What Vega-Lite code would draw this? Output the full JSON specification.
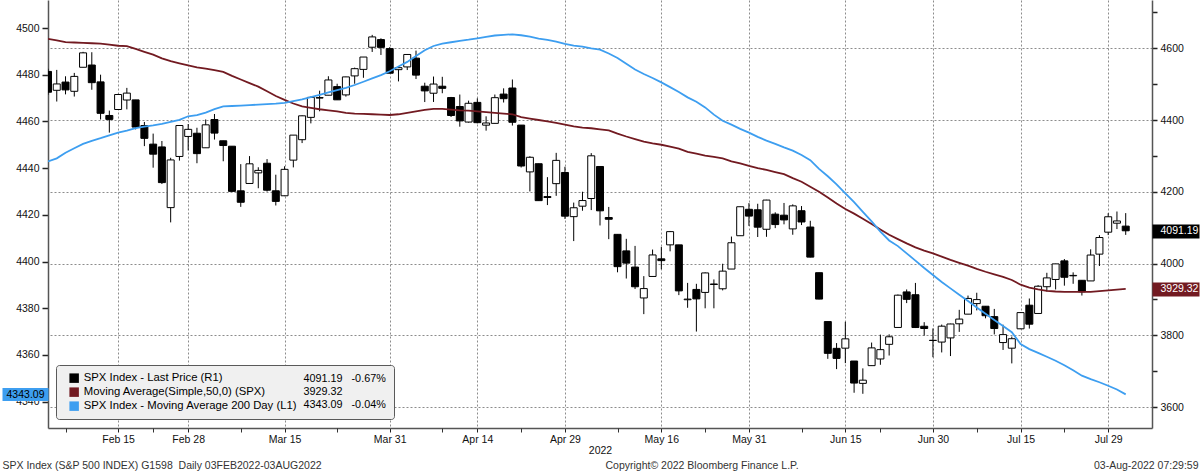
{
  "$schema": "https://vega.github.io/schema/vega-lite/v6.json",
  "width": 1104,
  "height": 428,
  "autosize": {"type": "none"},
  "padding": {"left": 48, "top": 0, "right": 48, "bottom": 44},
  "background": "#ffffff",
  "config": {
    "view": {"stroke": null},
    "font": "Liberation Sans",
    "axis": {"labelFont": "Liberation Sans", "labelFontSize": 10.5, "labelColor": "#111111", "titleFont": "Liberation Sans", "titleFontWeight": "normal", "titleFontSize": 10.5, "titleColor": "#222222", "domainColor": "#555555", "tickColor": "#222222"},
    "legend": {"labelFont": "Liberation Sans", "titleFont": "Liberation Sans"}
  },
  "datasets": {
    "px": [
      {"d":"2022-02-03","o":4535.41,"h":4542.88,"l":4470.39,"c":4477.44,"m50":4626,"m200":4442.9},
      {"d":"2022-02-04","o":4482.79,"h":4539.66,"l":4451.5,"c":4500.53,"m50":4622,"m200":4444.2},
      {"d":"2022-02-07","o":4505.75,"h":4521.86,"l":4471.47,"c":4483.87,"m50":4617,"m200":4446.6},
      {"d":"2022-02-08","o":4480.02,"h":4531.32,"l":4465.4,"c":4521.54,"m50":4616,"m200":4448.5},
      {"d":"2022-02-09","o":4547.0,"h":4590.03,"l":4547.0,"c":4587.18,"m50":4615,"m200":4450.4},
      {"d":"2022-02-10","o":4553.24,"h":4588.92,"l":4484.31,"c":4504.08,"m50":4614,"m200":4451.7},
      {"d":"2022-02-11","o":4506.27,"h":4526.33,"l":4401.41,"c":4418.64,"m50":4613,"m200":4452.8},
      {"d":"2022-02-14","o":4412.61,"h":4426.22,"l":4364.84,"c":4401.67,"m50":4610,"m200":4454.0},
      {"d":"2022-02-15","o":4429.28,"h":4472.77,"l":4429.28,"c":4471.07,"m50":4607,"m200":4455.2},
      {"d":"2022-02-16","o":4455.75,"h":4489.55,"l":4429.68,"c":4475.01,"m50":4606,"m200":4456.1},
      {"d":"2022-02-17","o":4456.06,"h":4456.06,"l":4373.81,"c":4380.26,"m50":4598,"m200":4457.1},
      {"d":"2022-02-18","o":4384.57,"h":4394.6,"l":4327.22,"c":4348.87,"m50":4590,"m200":4457.8},
      {"d":"2022-02-22","o":4332.74,"h":4362.12,"l":4267.11,"c":4304.76,"m50":4582,"m200":4458.3},
      {"d":"2022-02-23","o":4324.93,"h":4341.51,"l":4221.51,"c":4225.5,"m50":4572,"m200":4458.9},
      {"d":"2022-02-24","o":4155.77,"h":4294.73,"l":4114.65,"c":4288.7,"m50":4564,"m200":4459.8},
      {"d":"2022-02-25","o":4298.38,"h":4385.34,"l":4286.83,"c":4384.65,"m50":4558,"m200":4460.7},
      {"d":"2022-02-28","o":4354.17,"h":4388.84,"l":4315.12,"c":4373.94,"m50":4552,"m200":4462.2},
      {"d":"2022-03-01","o":4363.14,"h":4378.45,"l":4279.54,"c":4306.26,"m50":4547,"m200":4462.7},
      {"d":"2022-03-02","o":4322.56,"h":4401.48,"l":4322.56,"c":4386.54,"m50":4543,"m200":4463.8},
      {"d":"2022-03-03","o":4401.31,"h":4416.78,"l":4345.56,"c":4363.49,"m50":4539,"m200":4465.3},
      {"d":"2022-03-04","o":4342.12,"h":4342.12,"l":4284.98,"c":4328.87,"m50":4534,"m200":4466.4},
      {"d":"2022-03-07","o":4327.01,"h":4327.01,"l":4199.85,"c":4201.09,"m50":4523,"m200":4466.6},
      {"d":"2022-03-08","o":4202.66,"h":4276.94,"l":4157.87,"c":4170.7,"m50":4513,"m200":4466.8},
      {"d":"2022-03-09","o":4223.1,"h":4299.4,"l":4223.1,"c":4277.88,"m50":4503,"m200":4467.0},
      {"d":"2022-03-10","o":4252.55,"h":4268.28,"l":4209.8,"c":4259.52,"m50":4493,"m200":4467.2},
      {"d":"2022-03-11","o":4279.5,"h":4291.01,"l":4200.49,"c":4204.31,"m50":4480,"m200":4467.4},
      {"d":"2022-03-14","o":4202.75,"h":4247.57,"l":4161.72,"c":4173.11,"m50":4467,"m200":4467.6},
      {"d":"2022-03-15","o":4188.82,"h":4271.05,"l":4187.9,"c":4262.45,"m50":4456,"m200":4467.9},
      {"d":"2022-03-16","o":4288.14,"h":4357.86,"l":4267.92,"c":4357.86,"m50":4446,"m200":4468.7},
      {"d":"2022-03-17","o":4345.11,"h":4412.67,"l":4335.65,"c":4411.67,"m50":4438,"m200":4469.4},
      {"d":"2022-03-18","o":4407.34,"h":4465.4,"l":4390.57,"c":4463.12,"m50":4434,"m200":4470.4},
      {"d":"2022-03-21","o":4462.4,"h":4481.75,"l":4424.3,"c":4461.18,"m50":4430,"m200":4471.4},
      {"d":"2022-03-22","o":4469.1,"h":4522.0,"l":4469.1,"c":4511.61,"m50":4427,"m200":4472.4},
      {"d":"2022-03-23","o":4493.1,"h":4501.07,"l":4455.81,"c":4456.24,"m50":4424,"m200":4473.4},
      {"d":"2022-03-24","o":4469.98,"h":4520.58,"l":4465.17,"c":4520.16,"m50":4420,"m200":4474.4},
      {"d":"2022-03-25","o":4522.91,"h":4546.03,"l":4501.07,"c":4543.06,"m50":4418,"m200":4475.6},
      {"d":"2022-03-28","o":4541.09,"h":4575.65,"l":4517.69,"c":4575.52,"m50":4417,"m200":4477.0},
      {"d":"2022-03-29","o":4602.86,"h":4637.3,"l":4589.66,"c":4631.6,"m50":4416,"m200":4478.4},
      {"d":"2022-03-30","o":4624.2,"h":4627.77,"l":4581.32,"c":4602.45,"m50":4415,"m200":4479.8},
      {"d":"2022-03-31","o":4599.02,"h":4603.07,"l":4530.41,"c":4530.41,"m50":4414,"m200":4481.5},
      {"d":"2022-04-01","o":4540.32,"h":4548.7,"l":4507.57,"c":4545.86,"m50":4416,"m200":4483.5},
      {"d":"2022-04-04","o":4547.97,"h":4583.5,"l":4539.21,"c":4582.64,"m50":4420,"m200":4485.5},
      {"d":"2022-04-05","o":4572.45,"h":4593.45,"l":4514.17,"c":4525.12,"m50":4424,"m200":4488.0},
      {"d":"2022-04-06","o":4494.17,"h":4503.94,"l":4450.04,"c":4481.15,"m50":4428,"m200":4490.5},
      {"d":"2022-04-07","o":4474.65,"h":4521.16,"l":4450.3,"c":4500.21,"m50":4431,"m200":4492.3},
      {"d":"2022-04-08","o":4494.15,"h":4520.41,"l":4474.6,"c":4488.28,"m50":4431,"m200":4493.3},
      {"d":"2022-04-11","o":4462.64,"h":4464.35,"l":4408.38,"c":4412.53,"m50":4429,"m200":4493.9},
      {"d":"2022-04-12","o":4437.59,"h":4471.0,"l":4381.34,"c":4397.45,"m50":4427,"m200":4494.5},
      {"d":"2022-04-13","o":4394.3,"h":4453.92,"l":4392.7,"c":4446.59,"m50":4426,"m200":4495.0},
      {"d":"2022-04-14","o":4449.12,"h":4460.46,"l":4390.77,"c":4392.59,"m50":4424,"m200":4495.6},
      {"d":"2022-04-18","o":4385.63,"h":4410.31,"l":4370.3,"c":4391.69,"m50":4422,"m200":4496.2},
      {"d":"2022-04-19","o":4390.63,"h":4471.03,"l":4390.63,"c":4462.21,"m50":4420,"m200":4496.8},
      {"d":"2022-04-20","o":4472.26,"h":4488.29,"l":4448.76,"c":4459.45,"m50":4418,"m200":4497.1},
      {"d":"2022-04-21","o":4489.17,"h":4512.94,"l":4384.47,"c":4393.66,"m50":4416,"m200":4497.3},
      {"d":"2022-04-22","o":4385.83,"h":4385.83,"l":4267.62,"c":4271.78,"m50":4408,"m200":4496.9},
      {"d":"2022-04-25","o":4255.34,"h":4299.02,"l":4200.82,"c":4296.12,"m50":4404,"m200":4496.3},
      {"d":"2022-04-26","o":4278.14,"h":4278.14,"l":4175.04,"c":4175.2,"m50":4400,"m200":4495.5},
      {"d":"2022-04-27","o":4186.52,"h":4240.71,"l":4162.9,"c":4183.96,"m50":4396,"m200":4494.9},
      {"d":"2022-04-28","o":4222.58,"h":4308.45,"l":4188.63,"c":4287.5,"m50":4392,"m200":4494.2},
      {"d":"2022-04-29","o":4253.75,"h":4269.68,"l":4124.28,"c":4131.93,"m50":4387,"m200":4493.2},
      {"d":"2022-05-02","o":4130.61,"h":4169.81,"l":4062.51,"c":4155.38,"m50":4382,"m200":4492.5},
      {"d":"2022-05-03","o":4159.78,"h":4200.1,"l":4147.08,"c":4175.48,"m50":4379,"m200":4492.0},
      {"d":"2022-05-04","o":4181.18,"h":4307.66,"l":4148.91,"c":4300.17,"m50":4377,"m200":4491.3},
      {"d":"2022-05-05","o":4270.43,"h":4270.43,"l":4106.01,"c":4146.87,"m50":4374,"m200":4490.7},
      {"d":"2022-05-06","o":4128.17,"h":4157.69,"l":4067.91,"c":4123.34,"m50":4371,"m200":4489.1},
      {"d":"2022-05-09","o":4081.27,"h":4081.27,"l":3975.48,"c":3991.24,"m50":4362,"m200":4487.2},
      {"d":"2022-05-10","o":4035.18,"h":4068.82,"l":3958.17,"c":4001.05,"m50":4354,"m200":4484.7},
      {"d":"2022-05-11","o":3990.08,"h":4049.09,"l":3928.82,"c":3935.18,"m50":4347,"m200":4482.2},
      {"d":"2022-05-12","o":3903.95,"h":3964.8,"l":3858.87,"c":3930.08,"m50":4340,"m200":4480.3},
      {"d":"2022-05-13","o":3963.9,"h":4038.88,"l":3963.9,"c":4023.89,"m50":4335,"m200":4478.6},
      {"d":"2022-05-16","o":4013.02,"h":4046.46,"l":3983.99,"c":4008.01,"m50":4331,"m200":4476.7},
      {"d":"2022-05-17","o":4052.0,"h":4090.72,"l":4033.93,"c":4088.85,"m50":4326,"m200":4474.7},
      {"d":"2022-05-18","o":4051.98,"h":4051.98,"l":3911.91,"c":3923.68,"m50":4320,"m200":4472.6},
      {"d":"2022-05-19","o":3899.0,"h":3945.96,"l":3876.58,"c":3900.79,"m50":4311,"m200":4470.3},
      {"d":"2022-05-20","o":3927.76,"h":3943.42,"l":3810.32,"c":3901.36,"m50":4306,"m200":4468.4},
      {"d":"2022-05-23","o":3919.42,"h":3975.3,"l":3875.13,"c":3973.75,"m50":4301,"m200":4466.0},
      {"d":"2022-05-24","o":3942.94,"h":3955.68,"l":3875.13,"c":3941.48,"m50":4297,"m200":4462.9},
      {"d":"2022-05-25","o":3929.59,"h":3999.33,"l":3925.03,"c":3978.73,"m50":4293,"m200":4460.3},
      {"d":"2022-05-26","o":3984.6,"h":4075.14,"l":3984.6,"c":4057.84,"m50":4285,"m200":4458.6},
      {"d":"2022-05-27","o":4077.43,"h":4158.49,"l":4077.43,"c":4158.24,"m50":4279,"m200":4456.8},
      {"d":"2022-05-31","o":4151.09,"h":4168.34,"l":4104.88,"c":4132.15,"m50":4272,"m200":4455.2},
      {"d":"2022-06-01","o":4149.78,"h":4166.54,"l":4073.85,"c":4101.23,"m50":4266,"m200":4453.4},
      {"d":"2022-06-02","o":4095.41,"h":4177.51,"l":4074.37,"c":4176.82,"m50":4261,"m200":4451.8},
      {"d":"2022-06-03","o":4137.57,"h":4142.67,"l":4098.67,"c":4108.54,"m50":4255,"m200":4450.4},
      {"d":"2022-06-06","o":4134.72,"h":4168.78,"l":4109.18,"c":4121.43,"m50":4249,"m200":4448.9},
      {"d":"2022-06-07","o":4096.47,"h":4164.86,"l":4080.19,"c":4160.68,"m50":4238,"m200":4447.5},
      {"d":"2022-06-08","o":4147.12,"h":4160.14,"l":4107.2,"c":4115.77,"m50":4228,"m200":4445.6},
      {"d":"2022-06-09","o":4101.65,"h":4119.1,"l":4017.17,"c":4017.82,"m50":4214,"m200":4443.4},
      {"d":"2022-06-10","o":3974.39,"h":3974.39,"l":3900.16,"c":3900.86,"m50":4200,"m200":4439.7},
      {"d":"2022-06-13","o":3838.15,"h":3838.15,"l":3734.3,"c":3749.63,"m50":4184,"m200":4436.5},
      {"d":"2022-06-14","o":3763.52,"h":3778.18,"l":3705.68,"c":3735.48,"m50":4167,"m200":4433.0},
      {"d":"2022-06-15","o":3764.05,"h":3837.56,"l":3722.3,"c":3789.99,"m50":4152,"m200":4429.2},
      {"d":"2022-06-16","o":3728.18,"h":3728.18,"l":3639.77,"c":3666.77,"m50":4139,"m200":4425.4},
      {"d":"2022-06-17","o":3665.9,"h":3707.71,"l":3636.87,"c":3674.84,"m50":4125,"m200":4421.3},
      {"d":"2022-06-21","o":3715.31,"h":3779.65,"l":3715.31,"c":3764.79,"m50":4110,"m200":4417.2},
      {"d":"2022-06-22","o":3733.89,"h":3801.79,"l":3717.69,"c":3759.89,"m50":4095,"m200":4412.8},
      {"d":"2022-06-23","o":3774.71,"h":3802.58,"l":3743.52,"c":3795.73,"m50":4080,"m200":4409.0},
      {"d":"2022-06-24","o":3821.75,"h":3913.65,"l":3821.75,"c":3911.74,"m50":4068,"m200":4406.6},
      {"d":"2022-06-27","o":3920.76,"h":3927.72,"l":3889.66,"c":3900.11,"m50":4056,"m200":4403.5},
      {"d":"2022-06-28","o":3913.0,"h":3945.86,"l":3820.14,"c":3821.55,"m50":4045,"m200":4400.4},
      {"d":"2022-06-29","o":3825.09,"h":3836.5,"l":3799.02,"c":3818.83,"m50":4036,"m200":4397.2},
      {"d":"2022-06-30","o":3785.99,"h":3818.99,"l":3738.67,"c":3785.38,"m50":4028,"m200":4394.2},
      {"d":"2022-07-01","o":3781.0,"h":3829.82,"l":3752.1,"c":3825.33,"m50":4019,"m200":4391.2},
      {"d":"2022-07-05","o":3792.61,"h":3832.19,"l":3742.06,"c":3831.39,"m50":4010,"m200":4388.5},
      {"d":"2022-07-06","o":3831.98,"h":3870.91,"l":3809.37,"c":3845.08,"m50":4002,"m200":4385.8},
      {"d":"2022-07-07","o":3858.85,"h":3910.63,"l":3858.85,"c":3902.62,"m50":3994,"m200":4383.1},
      {"d":"2022-07-08","o":3888.26,"h":3918.5,"l":3869.34,"c":3899.38,"m50":3985,"m200":4380.3},
      {"d":"2022-07-11","o":3880.94,"h":3880.94,"l":3847.22,"c":3854.43,"m50":3977,"m200":4377.6},
      {"d":"2022-07-12","o":3851.95,"h":3873.41,"l":3802.36,"c":3818.8,"m50":3970,"m200":4375.0},
      {"d":"2022-07-13","o":3779.67,"h":3829.44,"l":3759.07,"c":3801.78,"m50":3963,"m200":4372.4},
      {"d":"2022-07-14","o":3763.99,"h":3796.41,"l":3721.56,"c":3790.38,"m50":3954,"m200":4369.7},
      {"d":"2022-07-15","o":3818.0,"h":3863.62,"l":3817.18,"c":3863.16,"m50":3941,"m200":4364.7},
      {"d":"2022-07-18","o":3883.79,"h":3902.44,"l":3818.63,"c":3830.85,"m50":3933,"m200":4362.5},
      {"d":"2022-07-19","o":3860.73,"h":3939.81,"l":3860.73,"c":3936.69,"m50":3928,"m200":4360.9},
      {"d":"2022-07-20","o":3935.32,"h":3974.13,"l":3922.03,"c":3959.9,"m50":3924,"m200":4359.2},
      {"d":"2022-07-21","o":3955.47,"h":3999.29,"l":3927.64,"c":3998.95,"m50":3922,"m200":4357.5},
      {"d":"2022-07-22","o":4007.36,"h":4012.44,"l":3938.24,"c":3961.63,"m50":3921,"m200":4355.6},
      {"d":"2022-07-25","o":3965.72,"h":3975.3,"l":3943.46,"c":3966.84,"m50":3921,"m200":4353.4},
      {"d":"2022-07-26","o":3953.22,"h":3953.22,"l":3910.74,"c":3921.05,"m50":3921,"m200":4351.1},
      {"d":"2022-07-27","o":3951.43,"h":4039.56,"l":3951.43,"c":4023.61,"m50":3921,"m200":4349.6},
      {"d":"2022-07-28","o":4026.13,"h":4078.95,"l":3992.97,"c":4072.43,"m50":3923,"m200":4348.3},
      {"d":"2022-07-29","o":4087.33,"h":4140.15,"l":4079.22,"c":4130.29,"m50":3925,"m200":4346.8},
      {"d":"2022-08-01","o":4112.38,"h":4144.95,"l":4096.02,"c":4118.63,"m50":3927,"m200":4345.2},
      {"d":"2022-08-02","o":4104.21,"h":4140.47,"l":4079.81,"c":4091.19,"m50":3929.32,"m200":4343.09}
    ]
  },
  "data": {"name": "px"},
  "encoding": {
    "x": {
      "field": "d", "type": "ordinal",
      "scale": {"type": "point", "padding": 0, "domain": ["2022-02-03","2022-02-04","2022-02-07","2022-02-08","2022-02-09","2022-02-10","2022-02-11","2022-02-14","2022-02-15","2022-02-16","2022-02-17","2022-02-18","2022-02-22","2022-02-23","2022-02-24","2022-02-25","2022-02-28","2022-03-01","2022-03-02","2022-03-03","2022-03-04","2022-03-07","2022-03-08","2022-03-09","2022-03-10","2022-03-11","2022-03-14","2022-03-15","2022-03-16","2022-03-17","2022-03-18","2022-03-21","2022-03-22","2022-03-23","2022-03-24","2022-03-25","2022-03-28","2022-03-29","2022-03-30","2022-03-31","2022-04-01","2022-04-04","2022-04-05","2022-04-06","2022-04-07","2022-04-08","2022-04-11","2022-04-12","2022-04-13","2022-04-14","2022-04-18","2022-04-19","2022-04-20","2022-04-21","2022-04-22","2022-04-25","2022-04-26","2022-04-27","2022-04-28","2022-04-29","2022-05-02","2022-05-03","2022-05-04","2022-05-05","2022-05-06","2022-05-09","2022-05-10","2022-05-11","2022-05-12","2022-05-13","2022-05-16","2022-05-17","2022-05-18","2022-05-19","2022-05-20","2022-05-23","2022-05-24","2022-05-25","2022-05-26","2022-05-27","2022-05-31","2022-06-01","2022-06-02","2022-06-03","2022-06-06","2022-06-07","2022-06-08","2022-06-09","2022-06-10","2022-06-13","2022-06-14","2022-06-15","2022-06-16","2022-06-17","2022-06-21","2022-06-22","2022-06-23","2022-06-24","2022-06-27","2022-06-28","2022-06-29","2022-06-30","2022-07-01","2022-07-05","2022-07-06","2022-07-07","2022-07-08","2022-07-11","2022-07-12","2022-07-13","2022-07-14","2022-07-15","2022-07-18","2022-07-19","2022-07-20","2022-07-21","2022-07-22","2022-07-25","2022-07-26","2022-07-27","2022-07-28","2022-07-29","2022-08-01","2022-08-02","2022-08-03","2022-08-04","2022-08-05"]},
      "axis": {
        "orient": "bottom",
        "values": ["2022-02-15","2022-02-28","2022-03-15","2022-03-31","2022-04-14","2022-04-29","2022-05-16","2022-05-31","2022-06-15","2022-06-30","2022-07-15","2022-07-29"],
        "labelExpr": "utcFormat(toDate(datum.value), '%b %d')",
        "labelAngle": 0,
        "grid": true, "gridDash": [2, 2], "gridColor": "#8c8c8c", "gridWidth": 1,
        "tickSize": 4, "labelPadding": 2, "domainWidth": 1.5,
        "title": "2022", "titlePadding": 1, "titleColor": "#111111"
      }
    }
  },
  "layer": [
    {
      "layer": [
        {
          "mark": {"type": "rule", "strokeWidth": 1, "clip": true},
          "encoding": {
            "y": {
              "field": "l", "type": "quantitative",
              "scale": {"domain": [3541.5, 4734.5], "zero": false, "nice": false},
              "axis": {
                "orient": "right",
                "values": [3600, 3700, 3800, 3900, 4000, 4100, 4200, 4300, 4400, 4500, 4600, 4700],
                "format": "d",
                "labelExpr": "datum.value % 200 === 0 ? datum.label : ''",
                "grid": true, "gridDash": [2, 2], "gridColor": "#8c8c8c", "gridWidth": 1,
                "gridOpacity": {"condition": {"test": "datum.value % 200 === 0", "value": 1}, "value": 0},
                "tickSize": 5, "tickWidth": 1.5, "labelPadding": 3, "domainWidth": 1.5,
                "title": "03-Aug-2022 07:29:59",
                "titleX": 46, "titleY": 465, "titleAngle": 0, "titleAlign": "right", "titleBaseline": "middle", "titleColor": "#333333"
              }
            },
            "y2": {"field": "h"},
            "color": {
              "datum": "SPX Index - Last Price (R1)",
              "scale": {
                "domain": ["SPX Index - Last Price (R1)", "Moving Average(Simple,50,0) (SPX)", "SPX Index - Moving Average 200 Day (L1)"],
                "range": ["#000000", "#721a21", "#3d9ef0"]
              },
              "legend": {
                "orient": "none", "legendX": 8, "legendY": 365, "direction": "vertical",
                "title": ["4091.19\u00a0\u00a0\u00a0-0.67%", "3929.32", "4343.09\u00a0\u00a0\u00a0-0.04%"],
                "titleOrient": "right", "titleAnchor": "start", "titleBaseline": "top",
                "titleFontWeight": "normal", "titleFontSize": 10.8, "titleColor": "#000000",
                "titleLineHeight": 13.3, "titlePadding": 6,
                "fillColor": "#f0f0f0", "strokeColor": "#5a5a5a", "cornerRadius": 3, "padding": 7.5,
                "symbolType": "square", "symbolSize": 90, "symbolStrokeWidth": 0, "symbolOffset": 5,
                "labelOffset": 4, "labelFontSize": 11.3, "labelColor": "#000000", "labelLimit": 400, "rowPadding": 2,
                "encode": {"symbols": {"update": {"fill": {"scale": "color", "field": "value"}, "opacity": {"value": 1}}}}
              }
            }
          }
        },
        {
          "mark": {"type": "bar", "width": 7, "stroke": "#000000", "strokeWidth": 1, "clip": true},
          "encoding": {
            "y": {
              "field": "o", "type": "quantitative",
              "scale": {"domain": [3541.5, 4734.5], "zero": false, "nice": false},
              "axis": {
                "orient": "right", "values": [4091.19, 3929.32], "format": ".2f",
                "grid": false, "domain": false, "tickSize": 47, "tickWidth": 14,
                "tickColor": {"condition": {"test": "datum.value > 4000", "value": "#000000"}, "value": "#721a21"},
                "labelColor": "#ffffff", "labelPadding": -39, "title": null
              }
            },
            "y2": {"field": "c"},
            "fill": {"condition": {"test": "datum.c < datum.o", "value": "#000000"}, "value": "#ffffff"}
          }
        },
        {
          "mark": {"type": "line", "strokeWidth": 1.8, "clip": true},
          "encoding": {
            "y": {"field": "m50", "type": "quantitative", "scale": {"domain": [3541.5, 4734.5], "zero": false, "nice": false}, "axis": null},
            "color": {"datum": "Moving Average(Simple,50,0) (SPX)"}
          }
        }
      ],
      "resolve": {"axis": {"y": "independent"}}
    },
    {
      "encoding": {
        "x": {
          "field": "d", "type": "ordinal",
          "scale": {"type": "point", "padding": 0, "domain": ["2022-02-03","2022-02-04","2022-02-07","2022-02-08","2022-02-09","2022-02-10","2022-02-11","2022-02-14","2022-02-15","2022-02-16","2022-02-17","2022-02-18","2022-02-22","2022-02-23","2022-02-24","2022-02-25","2022-02-28","2022-03-01","2022-03-02","2022-03-03","2022-03-04","2022-03-07","2022-03-08","2022-03-09","2022-03-10","2022-03-11","2022-03-14","2022-03-15","2022-03-16","2022-03-17","2022-03-18","2022-03-21","2022-03-22","2022-03-23","2022-03-24","2022-03-25","2022-03-28","2022-03-29","2022-03-30","2022-03-31","2022-04-01","2022-04-04","2022-04-05","2022-04-06","2022-04-07","2022-04-08","2022-04-11","2022-04-12","2022-04-13","2022-04-14","2022-04-18","2022-04-19","2022-04-20","2022-04-21","2022-04-22","2022-04-25","2022-04-26","2022-04-27","2022-04-28","2022-04-29","2022-05-02","2022-05-03","2022-05-04","2022-05-05","2022-05-06","2022-05-09","2022-05-10","2022-05-11","2022-05-12","2022-05-13","2022-05-16","2022-05-17","2022-05-18","2022-05-19","2022-05-20","2022-05-23","2022-05-24","2022-05-25","2022-05-26","2022-05-27","2022-05-31","2022-06-01","2022-06-02","2022-06-03","2022-06-06","2022-06-07","2022-06-08","2022-06-09","2022-06-10","2022-06-13","2022-06-14","2022-06-15","2022-06-16","2022-06-17","2022-06-21","2022-06-22","2022-06-23","2022-06-24","2022-06-27","2022-06-28","2022-06-29","2022-06-30","2022-07-01","2022-07-05","2022-07-06","2022-07-07","2022-07-08","2022-07-11","2022-07-12","2022-07-13","2022-07-14","2022-07-15","2022-07-18","2022-07-19","2022-07-20","2022-07-21","2022-07-22","2022-07-25","2022-07-26","2022-07-27","2022-07-28","2022-07-29","2022-08-01","2022-08-02","2022-08-03","2022-08-04","2022-08-05"]},
          "axis": {
            "orient": "bottom",
            "values": ["2022-02-07","2022-02-22","2022-03-08","2022-03-23","2022-04-08","2022-04-22","2022-05-09","2022-05-23","2022-06-08","2022-06-22","2022-07-08","2022-07-22"],
            "labels": false, "grid": false, "domain": false, "tickSize": 4, "tickColor": "#333333",
            "title": "Copyright\u00a9 2022 Bloomberg Finance L.P.",
            "titleX": 557, "titleY": 37, "titleAngle": 0, "titleAlign": "left", "titleBaseline": "middle", "titleColor": "#333333"
          }
        }
      },
      "layer": [
        {
          "mark": {"type": "line", "strokeWidth": 1.8, "clip": true},
          "encoding": {
            "y": {
              "field": "m200", "type": "quantitative",
              "scale": {"domain": [4328.7, 4512.0], "zero": false, "nice": false},
              "axis": {
                "orient": "left",
                "values": [4340, 4360, 4380, 4400, 4420, 4440, 4460, 4480, 4500],
                "format": "d", "grid": false, "tickSize": 6, "tickWidth": 1.5, "labelPadding": 3, "domainWidth": 1.5,
                "title": "SPX Index (S&P 500 INDEX) G1598\u00a0\u00a0Daily 03FEB2022-03AUG2022",
                "titleX": -46, "titleY": 465, "titleAngle": 0, "titleAlign": "left", "titleBaseline": "middle", "titleColor": "#333333"
              }
            },
            "color": {"datum": "SPX Index - Moving Average 200 Day (L1)"}
          }
        },
        {
          "mark": {"type": "point", "opacity": 0},
          "encoding": {
            "y": {
              "field": "m200", "type": "quantitative",
              "scale": {"domain": [4328.7, 4512.0], "zero": false, "nice": false},
              "axis": {
                "orient": "left", "values": [4343.09], "format": ".2f",
                "grid": false, "domain": false, "tickSize": 46, "tickWidth": 13, "tickColor": "#3d9ef0",
                "labelColor": "#000000", "labelPadding": -42, "title": null
              }
            }
          }
        }
      ],
      "resolve": {"axis": {"y": "independent"}}
    }
  ],
  "resolve": {"scale": {"y": "independent"}, "axis": {"y": "independent", "x": "independent"}}
}
